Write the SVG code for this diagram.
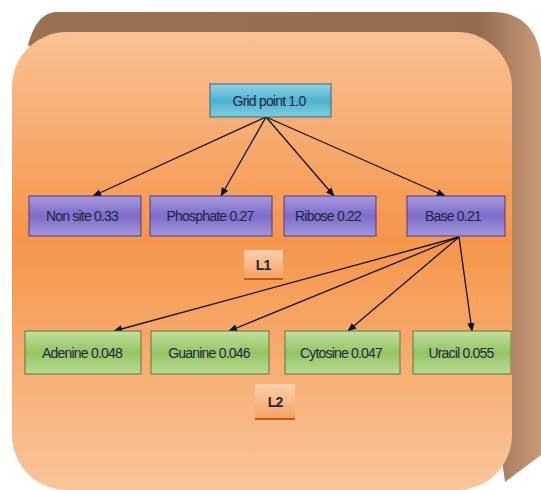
<svg xmlns="http://www.w3.org/2000/svg" width="541" height="490" viewBox="0 0 541 490">
<defs>
<linearGradient id="bg" x1="0" y1="0" x2="0" y2="1">
<stop offset="0" stop-color="#f9c194"/>
<stop offset="0.45" stop-color="#f5954a"/>
<stop offset="1" stop-color="#f9c59a"/>
</linearGradient>
<linearGradient id="back" x1="0" y1="0" x2="1" y2="0">
<stop offset="0" stop-color="#9a7252"/>
<stop offset="0.88" stop-color="#956c4e"/>
<stop offset="1" stop-color="#c89a78"/>
</linearGradient>
<linearGradient id="blue" x1="0" y1="0" x2="0" y2="1">
<stop offset="0" stop-color="#8fd3e6"/>
<stop offset="0.5" stop-color="#4fb3d0"/>
<stop offset="1" stop-color="#7ccbe0"/>
</linearGradient>
<linearGradient id="purple" x1="0" y1="0" x2="0" y2="1">
<stop offset="0" stop-color="#a798e0"/>
<stop offset="0.5" stop-color="#7e6cc8"/>
<stop offset="1" stop-color="#a496de"/>
</linearGradient>
<linearGradient id="green" x1="0" y1="0" x2="0" y2="1">
<stop offset="0" stop-color="#c2e0a0"/>
<stop offset="0.5" stop-color="#96c464"/>
<stop offset="1" stop-color="#b8da92"/>
</linearGradient>
<linearGradient id="lab" x1="0" y1="0" x2="0" y2="1">
<stop offset="0" stop-color="#fbd2ae"/>
<stop offset="1" stop-color="#f5a05e"/>
</linearGradient>
<marker id="arr" viewBox="0 0 10 10" refX="9" refY="5" markerWidth="7" markerHeight="7" orient="auto">
<path d="M0,1 L10,5 L0,9 z" fill="#111"/>
</marker>
<style>
.t{font-family:"Liberation Sans",Arial,sans-serif;font-size:14px;fill:#1e2740;text-anchor:middle;letter-spacing:-0.8px}
.line{stroke:#111;stroke-width:1.3;fill:none;marker-end:url(#arr)}
</style>
</defs>
<path d="M28,45 Q36,14 55,12 H495 Q536,14 541,60 V455 L505,482 L480,300 L100,100 Z" fill="url(#back)"/>
<rect x="12" y="32" width="500" height="458" rx="55" fill="url(#bg)"/>
<g id="connectors">
<line class="line" x1="266" y1="117" x2="93" y2="196"/>
<line class="line" x1="266" y1="117" x2="221" y2="196"/>
<line class="line" x1="266" y1="117" x2="334" y2="196"/>
<line class="line" x1="266" y1="117" x2="445" y2="196"/>
<line class="line" x1="459" y1="237" x2="114" y2="331"/>
<line class="line" x1="459" y1="237" x2="229" y2="331"/>
<line class="line" x1="459" y1="237" x2="348" y2="331"/>
<line class="line" x1="459" y1="237" x2="472" y2="331"/>
</g>
<g id="grid"><rect x="210" y="84" width="121" height="33" fill="url(#blue)" stroke="#2f6f80"/><text class="t" x="269" y="106">Grid point 1.0</text></g>
<g id="nonsite"><rect x="29" y="196" width="112" height="40" fill="url(#purple)" stroke="#4a3c80"/><text class="t" x="82" y="221">Non site 0.33</text></g>
<g id="phosphate"><rect x="150" y="196" width="122" height="40" fill="url(#purple)" stroke="#4a3c80"/><text class="t" x="210" y="221">Phosphate 0.27</text></g>
<g id="ribose"><rect x="284" y="196" width="92" height="40" fill="url(#purple)" stroke="#4a3c80"/><text class="t" x="328" y="221">Ribose 0.22</text></g>
<g id="base"><rect x="407" y="196" width="98" height="40" fill="url(#purple)" stroke="#4a3c80"/><text class="t" x="453" y="221">Base 0.21</text></g>
<g id="L1"><rect x="244" y="250" width="39" height="29" fill="url(#lab)"/><line x1="244" y1="279" x2="283" y2="279" stroke="#c85a10" stroke-width="2"/><text class="t" x="263" y="270" font-weight="bold">L1</text></g>
<g id="adenine"><rect x="25" y="331" width="116" height="43" fill="url(#green)" stroke="#5a7a3a"/><text class="t" x="82" y="358">Adenine 0.048</text></g>
<g id="guanine"><rect x="151" y="331" width="118" height="43" fill="url(#green)" stroke="#5a7a3a"/><text class="t" x="209" y="358">Guanine 0.046</text></g>
<g id="cytosine"><rect x="285" y="331" width="115" height="43" fill="url(#green)" stroke="#5a7a3a"/><text class="t" x="341" y="358">Cytosine 0.047</text></g>
<g id="uracil"><rect x="413" y="331" width="98" height="43" fill="url(#green)" stroke="#5a7a3a"/><text class="t" x="461" y="358">Uracil 0.055</text></g>
<g id="L2"><rect x="255" y="384" width="40" height="35" fill="url(#lab)"/><line x1="255" y1="419" x2="295" y2="419" stroke="#c85a10" stroke-width="2"/><text class="t" x="275" y="407" font-weight="bold">L2</text></g>
</svg>
